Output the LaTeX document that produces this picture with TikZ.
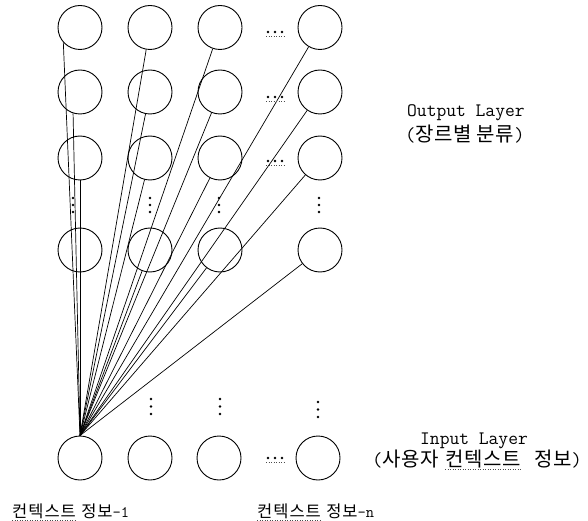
\documentclass[tikz,border=0pt]{standalone}
\usepackage{fontspec}
\newfontfamily\krA{Noto Sans CJK KR}[LetterSpace=3]
\newfontfamily\krB{Noto Sans CJK KR}[LetterSpace=6]
\begin{document}
\begin{tikzpicture}[x=1pt,y=-1pt,
  neuron/.style={draw,circle,minimum size=44pt,inner sep=0pt,line width=0.9pt},
  link/.style={line width=0.7pt},
  dotmark/.style={fill=black,circle,inner sep=0pt,minimum size=2.8pt},
  squiggle/.style={line width=0.5pt,dotted,black!70},
  lbl/.style={inner sep=0pt,anchor=base west,font=\ttfamily\fontsize{19}{22}\selectfont},
  krlbl/.style={inner sep=0pt,anchor=base west,font=\krA\fontsize{20}{23}\selectfont},
  bottomlbl/.style={inner sep=0pt,anchor=base west,font=\krB\fontsize{16.5}{19}\selectfont}]
\useasboundingbox (0,0) rectangle (588,521);
% output layer
\foreach \r/\y in {1/27.5,2/92,3/158,4/250}{
  \foreach \c/\x in {1/80,2/150,3/220,4/320}{
    \node[neuron] (o\r\c) at (\x,\y) {};
  }
}
% input layer
\node[neuron] (i1) at (80,458) {};
\node[neuron] (i2) at (150,458) {};
\node[neuron] (i3) at (219,458) {};
\node[neuron] (i4) at (318,458) {};
% connections
\draw[link] (i1.north) -- (o11.222);
\draw[link] (i1.north) -- (o21.252);
\foreach \c in {2,3,4}{
  \draw[link] (i1.north) -- (o1\c);
  \draw[link] (i1.north) -- (o2\c);
}
\foreach \c in {1,2,3,4}{
  \draw[link] (i1.north) -- (o3\c);
  \draw[link] (i1.north) -- (o4\c);
}
% horizontal dots
\foreach \y in {32,97,161,458}{
  \foreach \x in {268,275,282}{
    \node[dotmark] at (\x,\y) {};
  }
  \draw[squiggle] (266,\y+4) -- (284,\y+4);
}
% vertical dots between row 3 and row 4
\foreach \x in {73,150,219,319}{
  \foreach \y in {198,205,212}{
    \node[dotmark] at (\x,\y) {};
  }
}
% vertical dots above input layer
\foreach \x/\t in {151/399,220/399,318/402}{
  \foreach \d in {0,7.5,15}{
    \node[dotmark] at (\x,\t+\d) {};
  }
}
% labels
\node[lbl] (outl) at (407,117) {Output Layer};
\node[krlbl] (outk) at (405,142) {{\ttfamily(}장르별 분류{\ttfamily)}};
\node[lbl] (inl) at (420,444) {Input Layer};
\node[krlbl] (ink1) at (372,466) {{\ttfamily(}사용자};
\node[krlbl] (ink2) at (445,466) {컨텍스트};
\node[krlbl] (ink3) at (534,466) {정보{\ttfamily)}};
\draw[squiggle] ([yshift=-3.5pt]ink2.base west) -- ([yshift=-3.5pt]ink2.base east);
\node[bottomlbl] (b1a) at (12,517) {컨텍스트};
\node[bottomlbl] (b1b) at ([xshift=5pt]b1a.base east) {정보{\ttfamily\fontsize{16}{18}\selectfont -1}};
\draw[squiggle] ([yshift=-3pt]b1a.base west) -- ([yshift=-3pt]b1a.base east);
\node[bottomlbl] (bna) at (257,517) {컨텍스트};
\node[bottomlbl] (bnb) at ([xshift=5pt]bna.base east) {정보{\ttfamily\fontsize{16}{18}\selectfont -n}};
\draw[squiggle] ([yshift=-3pt]bna.base west) -- ([yshift=-3pt]bna.base east);
\end{tikzpicture}
\end{document}
